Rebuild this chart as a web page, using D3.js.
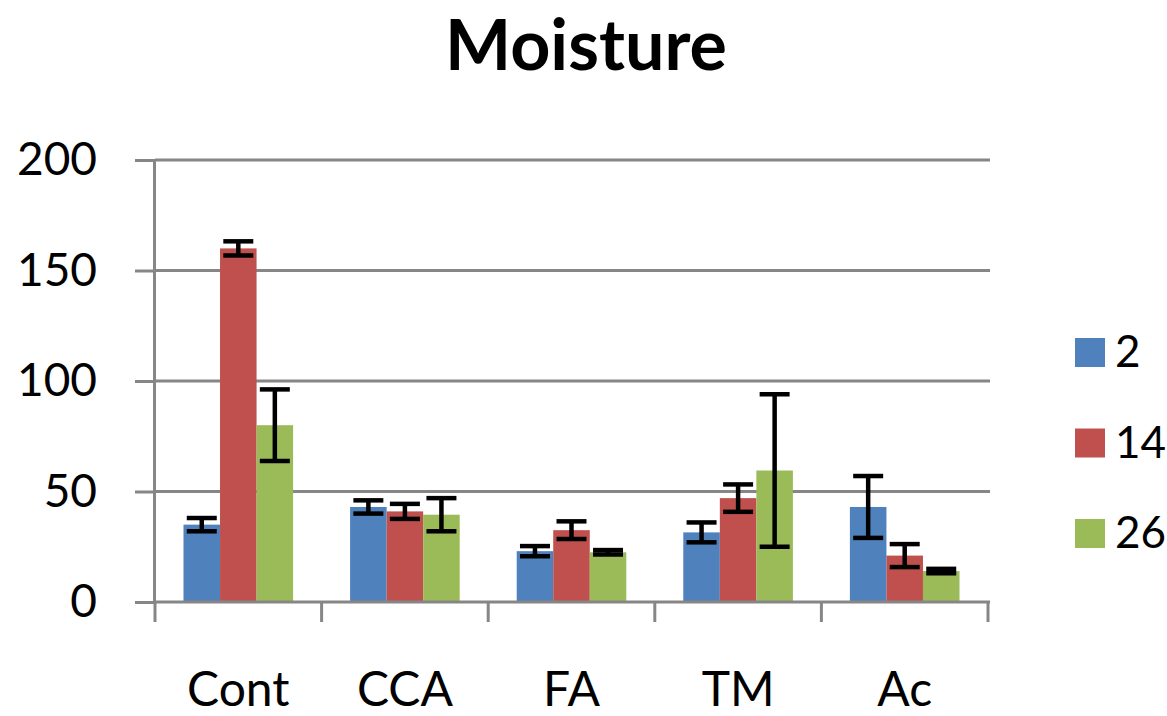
<!DOCTYPE html>
<html>
<head>
<meta charset="utf-8">
<script src="https://cdn.jsdelivr.net/npm/d3@7"></script>
<style>
  body { margin: 0; background: #fff; }
  svg { display: block; }
</style>
</head>
<body>
<svg id="chart"></svg>
<script>
const categories = ["Cont", "CCA", "FA", "TM", "Ac"];
const series = ["2", "14", "26"];
const values2  = [35, 43, 23, 31.5, 43];
const values14 = [160, 41, 32.5, 47, 21];
const values26 = [80, 39.5, 22.5, 59.5, 14];
const err2  = [3, 3, 2.3, 4.5, 14];
const err14 = [3.2, 3.4, 4, 6.2, 5.2];
const err26 = [16.2, 7.5, 1, 34.5, 1];
const yTicks = [0, 50, 100, 150, 200];
const colors = ["#4F81BD", "#C0504D", "#9BBB59"];

const W = 1167, H = 716;
const font = "Lato, 'Open Sans', sans-serif";
const gridColor = "#868686";

const svg = d3.select("#chart").attr("width", W).attr("height", H);

const seriesValues = [values2, values14, values26];
const seriesErr = [err2, err14, err26];
const rows = [];
categories.forEach((c, i) => {
    series.forEach((s, j) => {
        rows.push({cat: c, s, v: seriesValues[j][i], e: seriesErr[j][i], color: colors[j]});
    });
});

const x = d3.scaleBand().domain(categories).range([155, 988]).padding(0);
const xs = d3.scaleBand().domain(series).range([0, x.bandwidth()]).paddingInner(0).paddingOuter(0.78);
const y = d3.scaleLinear().domain([0, 200]).range([602, 160]);

// gridlines
svg.append("g")
    .selectAll("line")
    .data(yTicks.filter(t => t > 0))
    .enter().append("line")
    .attr("x1", 155).attr("x2", 990)
    .attr("y1", d => y(d)).attr("y2", d => y(d))
    .attr("stroke", gridColor).attr("stroke-width", 3);

// bars
svg.append("g")
    .selectAll("rect")
    .data(rows)
    .enter().append("rect")
    .attr("x", d => x(d.cat) + xs(d.s))
    .attr("y", d => y(d.v))
    .attr("width", xs.bandwidth())
    .attr("height", d => y(0) - y(d.v))
    .attr("fill", d => d.color);

// error bars
const eb = svg.append("g")
    .selectAll("g")
    .data(rows)
    .enter().append("g")
    .attr("stroke", "#000").attr("stroke-width", 4.5);

const cx = d => x(d.cat) + xs(d.s) + xs.bandwidth() / 2;
eb.append("line")
    .attr("x1", cx).attr("x2", cx)
    .attr("y1", d => y(d.v + d.e)).attr("y2", d => y(d.v - d.e));
eb.append("line")
    .attr("x1", d => cx(d) - 15).attr("x2", d => cx(d) + 15)
    .attr("y1", d => y(d.v + d.e)).attr("y2", d => y(d.v + d.e));
eb.append("line")
    .attr("x1", d => cx(d) - 15).attr("x2", d => cx(d) + 15)
    .attr("y1", d => y(d.v - d.e)).attr("y2", d => y(d.v - d.e));

// y axis
const yAxis = svg.append("g")
    .attr("transform", "translate(154,0)")
    .call(d3.axisLeft(y).tickValues(yTicks).tickSize(19).tickPadding(38));
yAxis.select(".domain").attr("stroke", gridColor).attr("stroke-width", 3);
yAxis.selectAll(".tick line").attr("stroke", gridColor).attr("stroke-width", 3);
yAxis.selectAll(".tick text")
    .attr("fill", "#000")
    .style("font-family", font)
    .style("font-size", "46px");

// x axis
const xAxis = svg.append("g")
    .attr("transform", `translate(0,${y(0)})`)
    .call(d3.axisBottom(x).tickSize(0).tickPadding(0));
xAxis.select(".domain").attr("stroke", gridColor).attr("stroke-width", 3)
    .attr("d", "M153,0H990");
xAxis.selectAll(".tick line").remove();
xAxis.selectAll(".tick text")
    .attr("y", 104)
    .attr("dy", 0)
    .attr("fill", "#000")
    .style("font-family", font)
    .style("font-size", "48px");

// category separators
svg.append("g")
    .selectAll("line")
    .data(categories.concat(["end"]))
    .enter().append("line")
    .attr("x1", (d, i) => i < categories.length ? x(d) : x.range()[1])
    .attr("x2", (d, i) => i < categories.length ? x(d) : x.range()[1])
    .attr("y1", y(0)).attr("y2", y(0) + 20)
    .attr("stroke", gridColor).attr("stroke-width", 3);

// title
svg.append("text")
    .attr("x", 586)
    .attr("y", 70)
    .attr("text-anchor", "middle")
    .style("font-family", font)
    .style("font-weight", "bold")
    .style("font-size", "70px")
    .text("Moisture");

// legend
const legend = svg.append("g")
    .selectAll("g")
    .data(series)
    .enter().append("g")
    .attr("transform", (d, i) => `translate(1075,${338 + i * 90.5})`);
legend.append("rect")
    .attr("width", 30).attr("height", 29)
    .attr("fill", (d, i) => colors[i]);
legend.append("text")
    .attr("x", 40)
    .attr("y", 29)
    .style("font-family", font)
    .style("font-size", "44px")
    .text(d => d);
</script>
</body>
</html>
